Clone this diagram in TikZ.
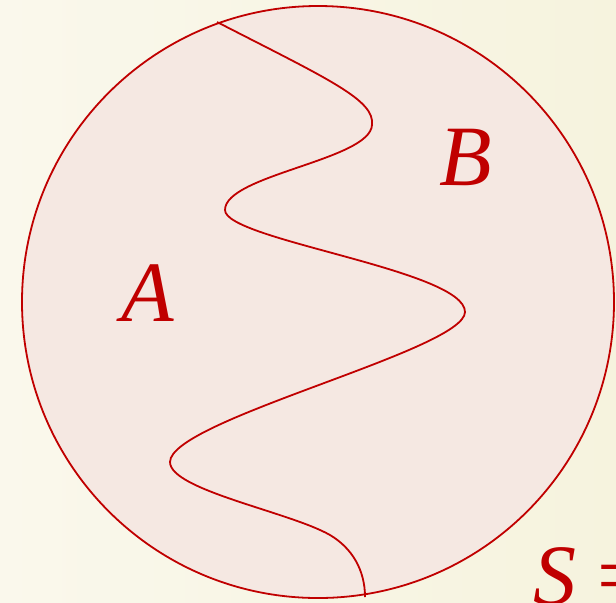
\documentclass[tikz,border=0pt]{standalone}
\usepackage{fontspec}
\setmainfont{Liberation Serif}
\usetikzlibrary{positioning}
\definecolor{figpaper}{HTML}{FAF8EC}
\definecolor{figpaperhi}{HTML}{F6F3DE}
\definecolor{figline}{HTML}{C00000}
\definecolor{figfill}{HTML}{F5E8E2}

\begin{document}
\begin{tikzpicture}[
  x=0.5pt, y=-0.5pt,
  region/.style={draw=figline, line width=0.9pt, fill=figfill},
  cut/.style={draw=figline, line width=0.9pt},
  lab/.style={text=figline, inner sep=0pt, font=\fontsize{43}{48}\selectfont\itshape}
]
\useasboundingbox (0,0) rectangle (616,602);
\shade[left color=figpaper, right color=figpaperhi] (0,0) rectangle (616,602);
% the whole set, split in two parts
\draw[region] (318,302) circle[radius=296];
\draw[cut] (217,22) .. controls (330,80) and (375,100) .. (372,125)
  .. controls (370,160) and (225,175) .. (225,210)
  .. controls (225,240) and (465,270) .. (465,312)
  .. controls (465,350) and (170,420) .. (170,462)
  .. controls (170,490) and (290,512) .. (330,535)
  .. controls (352,548) and (365,570) .. (365,597);
\node[lab] (a) at (148,293) {A};
\node[lab] (b) at (466,157) {B};
\node[lab, anchor=base west] (s) at (533,604) {S {\upshape=}};
\end{tikzpicture}
\end{document}
